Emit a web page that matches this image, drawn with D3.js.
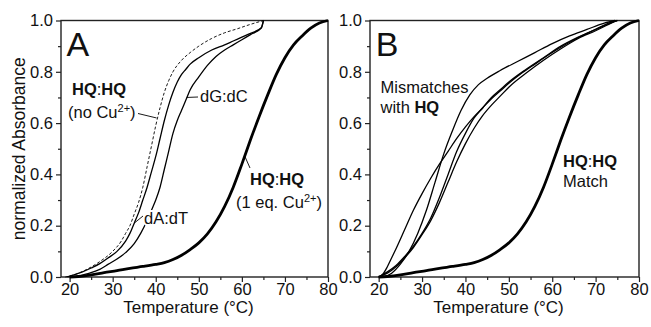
<!DOCTYPE html>
<html>
<head>
<meta charset="utf-8">
<script src="https://cdn.jsdelivr.net/npm/d3@7/dist/d3.min.js"></script>
<style>
  body { margin: 0; background: #fff; }
  svg text { font-family: "Liberation Sans", Arial, sans-serif; fill: #111; }
</style>
</head>
<body>
<svg id="chart" width="651" height="327"></svg>
<script>
// ---- data: [temperature °C, normalized absorbance] ----
const hqCu = [[20,0],[22,0.002],[25,0.008],[28,0.017],[31,0.025],[34,0.034],[37,0.041],[40,0.049],[42,0.056],[44,0.068],[46,0.085],[48,0.107],[50,0.133],[52,0.168],[54,0.215],[56,0.275],[58,0.35],[60,0.44],[62,0.535],[64,0.625],[66,0.71],[68,0.79],[70,0.855],[72,0.905],[74,0.94],[76,0.97],[78,0.99],[80,1.0]];
const hqNoCu = [[19,0],[21,0.008],[24,0.03],[27,0.06],[30,0.1],[32,0.14],[33,0.17],[34,0.2],[35,0.245],[36,0.29],[37,0.35],[38,0.43],[39,0.51],[40,0.59],[41,0.66],[42,0.72],[43,0.765],[44,0.8],[46,0.845],[48,0.875],[50,0.9],[53,0.93],[56,0.952],[59,0.968],[62,0.985],[64,0.995],[65,1.0]];
const dAdT = [[19.5,0],[21,0.008],[23,0.02],[25,0.035],[27,0.052],[29,0.075],[31,0.1],[33,0.14],[34,0.17],[35,0.21],[36,0.25],[37,0.3],[38,0.35],[39,0.41],[40,0.47],[41,0.54],[42,0.61],[43,0.67],[44,0.72],[45,0.76],[46,0.79],[47,0.81],[48,0.83],[50,0.855],[53,0.885],[56,0.905],[58,0.92],[60,0.935],[62,0.95],[64.5,0.972],[65,1.0]];
const dGdC = [[21.5,0],[24,0.012],[27,0.03],[29,0.05],[31,0.07],[33,0.095],[35,0.13],[36.5,0.17],[38,0.22],[39,0.26],[40,0.3],[41,0.35],[42,0.42],[43,0.49],[44,0.56],[45,0.61],[46,0.65],[47,0.69],[48,0.73],[50,0.78],[52,0.825],[54,0.86],[56,0.885],[58,0.905],[60,0.925],[62,0.945],[64.5,0.97],[65,1.0]];
const mis1 = [[20,0],[21,0.012],[22,0.04],[23,0.075],[24,0.11],[26,0.185],[28,0.26],[30,0.325],[32,0.385],[34,0.44],[36,0.49],[38,0.54],[40,0.585],[42,0.625],[44,0.66],[46,0.695],[48,0.725],[50,0.755],[53,0.795],[56,0.83],[60,0.875],[64,0.915],[68,0.95],[72,0.98],[75,1.0]];
const mis2 = [[21,0],[23,0.015],[25,0.05],[27,0.1],[29,0.17],[31,0.26],[33,0.37],[35,0.48],[37,0.57],[39,0.65],[41,0.71],[43,0.75],[45,0.775],[48,0.805],[52,0.84],[56,0.875],[60,0.91],[64,0.94],[68,0.965],[72,0.99],[74.5,1.0]];
const mis3 = [[20,0],[22,0.02],[24,0.045],[26,0.08],[28,0.12],[30,0.17],[32,0.23],[34,0.31],[36,0.4],[38,0.49],[40,0.56],[42,0.62],[44,0.66],[46,0.7],[48,0.73],[50,0.76],[54,0.81],[58,0.855],[62,0.9],[66,0.935],[70,0.965],[73,0.99],[75,1.0]];
const mis4 = [[20,0],[22,0.015],[24,0.04],[26,0.075],[28,0.115],[30,0.165],[32,0.22],[34,0.29],[36,0.37],[38,0.45],[40,0.52],[42,0.58],[44,0.63],[46,0.67],[48,0.705],[50,0.74],[54,0.795],[58,0.845],[62,0.89],[66,0.93],[70,0.96],[73,0.985],[75,1.0]];

const xMajor = [20, 30, 40, 50, 60, 70, 80];
const xMinor = [25, 35, 45, 55, 65, 75];
const yMajor = [0, 0.2, 0.4, 0.6, 0.8, 1.0];
const yMinor = [0.1, 0.3, 0.5, 0.7, 0.9];

const svg = d3.select("#chart");
const plotTop = 20.5, plotBottom = 277;

function panel(left, right, letter, showYTitle) {
  const x = d3.scaleLinear().domain([18, 80]).range([left, right]);
  const y = d3.scaleLinear().domain([0, 1]).range([plotBottom, plotTop]);
  const g = svg.append("g");

  // axes: major + minor ticks, pointing outward
  g.append("g").attr("transform", `translate(0,${plotBottom})`)
    .call(d3.axisBottom(x).tickValues(xMajor).tickSize(5).tickPadding(1).tickFormat(d3.format("d")))
    .call(a => a.select(".domain").remove());
  g.append("g").attr("transform", `translate(0,${plotBottom})`)
    .call(d3.axisBottom(x).tickValues(xMinor).tickSize(3).tickFormat(""))
    .call(a => a.select(".domain").remove());
  g.append("g").attr("transform", `translate(${left},0)`)
    .call(d3.axisLeft(y).tickValues(yMajor).tickSize(5).tickPadding(3).tickFormat(d3.format(".1f")))
    .call(a => a.select(".domain").remove());
  g.append("g").attr("transform", `translate(${left},0)`)
    .call(d3.axisLeft(y).tickValues(yMinor).tickSize(3).tickFormat(""))
    .call(a => a.select(".domain").remove());
  g.selectAll(".tick line").attr("stroke", "#222").attr("stroke-width", 1.2);
  g.selectAll(".tick text").style("font-size", "16.5px").attr("fill", "#111");

  g.append("rect").attr("x", left).attr("y", plotTop)
    .attr("width", right - left).attr("height", plotBottom - plotTop)
    .attr("fill", "none").attr("stroke", "#222").attr("stroke-width", 1.4);

  g.append("text").attr("x", (left + right) / 2 - 6).attr("y", 313)
    .attr("text-anchor", "middle").style("font-size", "17px").text("Temperature (°C)");
  if (showYTitle) {
    g.append("text").attr("transform", `translate(25,${(plotTop + plotBottom) / 2}) rotate(-90)`)
      .attr("text-anchor", "middle").style("font-size", "17.5px").text("normalized Absorbance");
  }
  g.append("text").attr("x", x(19.3)).attr("y", 56).style("font-size", "34px").text(letter);

  const line = d3.line().x(d => x(d[0])).y(d => y(d[1])).curve(d3.curveMonotoneX);
  const draw = (data, w, dash) => g.append("path").datum(data).attr("d", line)
    .attr("fill", "none").attr("stroke", "#000").attr("stroke-width", w)
    .attr("stroke-dasharray", dash || null).attr("stroke-linejoin", "round");
  return { g, x, y, draw };
}

function label(p, xx, yy, parts, halo) {
  const t = p.g.append("text").attr("x", xx).attr("y", yy).style("font-size", "16.5px");
  if (halo) t.attr("stroke", "#fff").attr("stroke-width", 4).attr("paint-order", "stroke");
  parts.forEach(s => {
    const ts = t.append("tspan").text(s.t);
    if (s.b) ts.attr("font-weight", "bold");
    if (s.sup) ts.attr("baseline-shift", "super").style("font-size", "11px");
  });
  return t;
}
const tick = (p, x1, y1, x2, y2) => p.g.append("line")
  .attr("x1", x1).attr("y1", y1).attr("x2", x2).attr("y2", y2)
  .attr("stroke", "#000").attr("stroke-width", 0.9);

// ---- panel A ----
const A = panel(61, 328, "A", true);
A.draw(hqNoCu, 0.9, "3,2");
A.draw(dAdT, 1.3);
A.draw(dGdC, 1.3);
A.draw(hqCu, 2.8);

label(A, 72, 95, [{t: "HQ", b: 1}, {t: ":"}, {t: "HQ", b: 1}]);
label(A, 68, 118, [{t: "(no Cu"}, {t: "2+", sup: 1}, {t: ")"}]);
tick(A, 138, 113.5, A.x(40.2), A.y(0.62));
label(A, 200, 102, [{t: "dG:dC"}]);
tick(A, A.x(47.2), A.y(0.7), 198, 97);
label(A, 144, 224, [{t: "dA:dT"}], true);
tick(A, A.x(35), A.y(0.21), 143, 216);
label(A, 250, 185, [{t: "HQ", b: 1}, {t: ":"}, {t: "HQ", b: 1}]);
label(A, 236, 208, [{t: "(1 eq. Cu"}, {t: "2+", sup: 1}, {t: ")"}]);
tick(A, A.x(60.7), A.y(0.47), 250, 168);

// ---- panel B ----
const B = panel(370, 639, "B", false);
[mis1, mis2, mis3, mis4].forEach(m => B.draw(m, 1.3));
B.draw(hqCu, 2.8);
label(B, 380.5, 93, [{t: "Mismatches"}]);
label(B, 380.5, 113, [{t: "with "}, {t: "HQ", b: 1}]);
label(B, 563, 167, [{t: "HQ", b: 1}, {t: ":"}, {t: "HQ", b: 1}]);
label(B, 563, 187, [{t: "Match"}]);
</script>
</body>
</html>
